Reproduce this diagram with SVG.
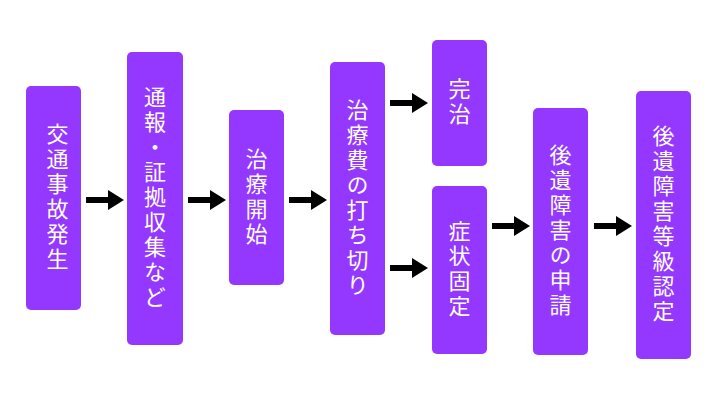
<svg xmlns="http://www.w3.org/2000/svg" width="720" height="400" viewBox="0 0 720 400">
<style>
.b{fill:#9437FF}
.t{fill:#fff;font-family:"Noto Sans CJK JP","Noto Sans",sans-serif;font-size:22px;text-anchor:middle;writing-mode:vertical-rl;letter-spacing:3px}
.a{fill:#000}
</style>
<defs><path id="ar" d="M0,-3 H22 V-10 L38,0 L22,10 V3 H0 Z"/></defs>
<rect width="720" height="400" fill="#fff"/>
<g id="n1"><rect class="b" x="26" y="86" width="55" height="224" rx="5"/><text class="t" x="53.5" y="198" dominant-baseline="middle">交通事故発生</text></g>
<g id="n2"><rect class="b" x="127" y="52" width="56" height="293" rx="5"/><text class="t" x="155" y="198.5">通報・証拠収集など</text></g>
<g id="n3"><rect class="b" x="229" y="110" width="55" height="175" rx="5"/><text class="t" x="256.5" y="197.5">治療開始</text></g>
<g id="n4"><rect class="b" x="330" y="62" width="55" height="273" rx="5"/><text class="t" x="357.5" y="198.5">治療費の打ち切り</text></g>
<g id="n5"><rect class="b" x="432" y="40" width="55" height="126" rx="5"/><text class="t" x="459.5" y="103">完治</text></g>
<g id="n6"><rect class="b" x="432" y="186" width="55" height="168" rx="5"/><text class="t" x="459.5" y="270">症状固定</text></g>
<g id="n7"><rect class="b" x="533" y="108" width="55" height="247" rx="5"/><text class="t" x="560.5" y="231.5">後遺障害の申請</text></g>
<g id="n8"><rect class="b" x="636" y="91" width="55" height="268" rx="5"/><text class="t" x="663.5" y="225">後遺障害等級認定</text></g>
<g id="connectors" class="a">
<use href="#ar" x="86" y="200"/>
<use href="#ar" x="188" y="200"/>
<use href="#ar" x="289" y="200"/>
<use href="#ar" x="390" y="103"/>
<use href="#ar" x="390" y="268"/>
<use href="#ar" x="492" y="226"/>
<use href="#ar" x="594" y="226"/>
</g>
</svg>
